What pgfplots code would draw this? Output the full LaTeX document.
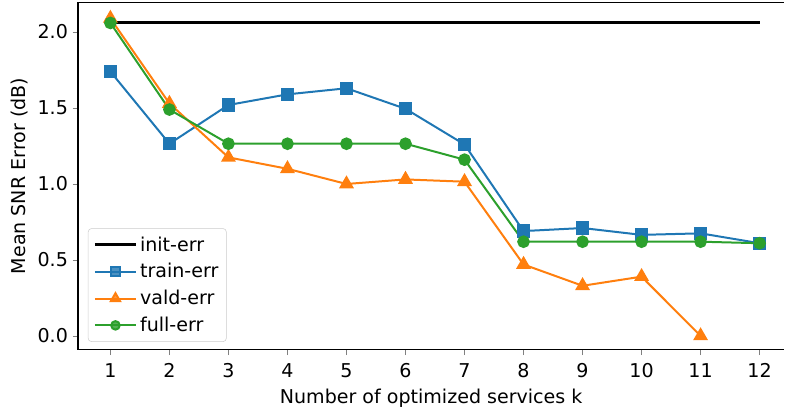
\documentclass[border=0pt]{standalone}
\usepackage{pgfplots}
\pgfplotsset{compat=1.18}
\usepackage{fontspec}
\setmainfont{DejaVu Sans}
\definecolor{tabblue}{HTML}{1F77B4}
\definecolor{taborange}{HTML}{FF7F0E}
\definecolor{tabgreen}{HTML}{2CA02C}
\begin{document}
\begin{tikzpicture}
\begin{axis}[
  name=ax,
  at={(0,0)}, anchor=south west,
  scale only axis, width=530.25pt, height=261pt,
  xmin=0.45, xmax=12.42, ymin=-0.092, ymax=2.197,
  axis x line*=bottom, axis y line*=left,
  xtick={1,...,12}, ytick={0,0.5,1.0,1.5,2.0},
  yticklabel style={/pgf/number format/.cd,fixed,fixed zerofill,precision=1},
  /pgf/number format/assume math mode=true,
  tick align=outside, major tick length=4pt,
  tick label style={font=\fontsize{14.3}{17}\selectfont},
  xticklabel style={yshift=-2.5pt},
  label style={font=\fontsize{14.3}{17}\selectfont},
  xlabel={Number of optimized services k},
  ylabel={Mean SNR Error (dB)},
  xlabel style={yshift=-1.5pt},
  axis line style={line width=0.9pt},
  legend style={at={(7.5pt,6pt)}, anchor=south west, font=\fontsize{14.3}{17}\selectfont,
    draw=black!20, rounded corners=2.5pt, fill=white, fill opacity=0.8, text opacity=1,
    row sep=3.8pt, inner sep=4pt},
  legend cell align=left,
  legend image code/.code={\draw[mark repeat=2,mark phase=2,mark options={scale=0.8}] plot coordinates {(0cm,0cm) (0.54cm,0cm) (1.08cm,0cm)};},
]
\addplot[black, line width=2.2pt, no marks] coordinates {(1,2.06) (12,2.06)};
\addlegendentry{init-err}
\addplot[tabblue, line width=1.5pt, mark=square*, mark size=4.2pt] coordinates {
(1,1.74) (2,1.265) (3,1.52) (4,1.59) (5,1.63) (6,1.495) (7,1.26) (8,0.69) (9,0.71) (10,0.665) (11,0.675) (12,0.61)};
\addlegendentry{train-err}
\addplot[taborange, line width=1.5pt, mark=triangle*, mark size=5pt] coordinates {
(1,2.09) (2,1.53) (3,1.175) (4,1.10) (5,1.0) (6,1.03) (7,1.015) (8,0.47) (9,0.33) (10,0.39) (11,0.0)};
\addlegendentry{vald-err}
\addplot[tabgreen, line width=1.5pt, mark=*, mark size=4pt] coordinates {
(1,2.06) (2,1.49) (3,1.265) (4,1.265) (5,1.265) (6,1.265) (7,1.16) (8,0.62) (9,0.62) (10,0.62) (11,0.62) (12,0.61)};
\addlegendentry{full-err}
\end{axis}
\draw[line width=0.9pt] (0,261pt) -- (530.25pt,261pt);
\path (0,262.6pt);
\path (-58.5pt,-46.5pt);
\end{tikzpicture}
\end{document}
